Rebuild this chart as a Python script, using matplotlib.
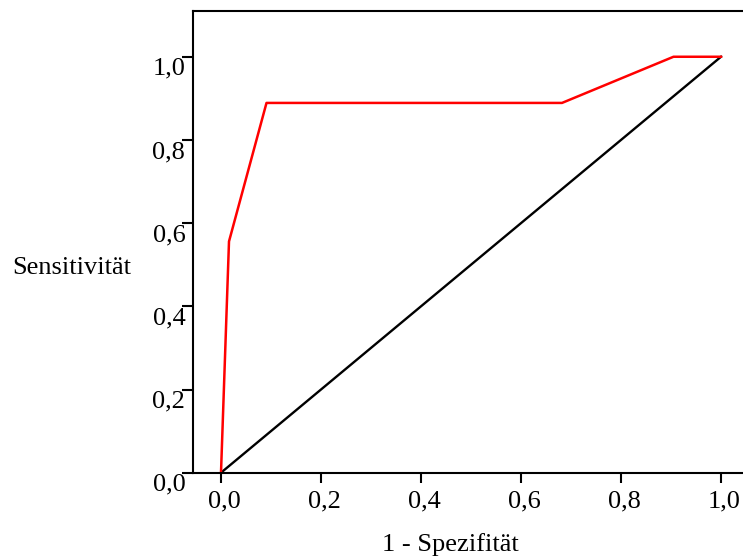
import numpy as np
import matplotlib
matplotlib.use("Agg")
import matplotlib.pyplot as plt
import matplotlib.transforms as mtransforms

# ROC curve points (1 - specificity, sensitivity)
fpr = [0.0, 0.016, 0.091, 0.682, 0.905, 1.0]
tpr = [0.0, 0.556, 0.889, 0.889, 1.0, 1.0]
diag = [0.0, 1.0]

xticks = [0.0, 0.2, 0.4, 0.6, 0.8, 1.0]
yticks = [0.0, 0.2, 0.4, 0.6, 0.8, 1.0]
xlabels = ["0,0", "0,2", "0,4", "0,6", "0,8", "1,0"]
ylabels = ["0,0", "0,2", "0,4", "0,6", "0,8", "1,0"]

plt.rcParams['font.family'] = ['Liberation Serif', 'DejaVu Serif']
fs = 19

W, H = 743, 559
fig = plt.figure(figsize=(W / 100, H / 100), dpi=100)
ax = fig.add_axes([193 / W, (H - 472.7) / H, 1 - 193 / W, (472.7 - 11) / H])

ax.plot(diag, diag, color='black', lw=1.7)
ax.plot(fpr, tpr, color='#ff0000', lw=1.8)

ax.set_xlim(-0.056, 1.044)
ax.set_ylim(0, 1.11)

ax.spines['right'].set_visible(False)
for s in ['left', 'bottom', 'top']:
    ax.spines[s].set_linewidth(1.5)

ax.set_xticks(xticks)
ax.set_xticklabels(xlabels, fontsize=fs)
ax.set_yticks(yticks)
ax.set_yticklabels(ylabels, fontsize=fs)
ax.tick_params(axis='x', direction='out', length=7.5, width=1.5, pad=5)
ax.tick_params(axis='y', direction='out', length=8, width=1.5, pad=-2.5)

# SPSS style: y labels hang below their tick, x labels slightly right
yoff = mtransforms.ScaledTranslation(0, -13 / 72, fig.dpi_scale_trans)
for lab in ax.get_yticklabels():
    lab.set_va('baseline')
    lab.set_transform(lab.get_transform() + yoff)
xoff = mtransforms.ScaledTranslation(2.5 / 72, 0, fig.dpi_scale_trans)
for lab in ax.get_xticklabels():
    lab.set_transform(lab.get_transform() + xoff)

fig.text(12 / W, 1 - 268 / H, "Sensitivität", fontsize=fs, ha='left', va='center')
fig.text(450 / W, 1 - 545 / H, "1 - Spezifität", fontsize=fs, ha='center', va='center')

fig.savefig("out.png", dpi=100)
